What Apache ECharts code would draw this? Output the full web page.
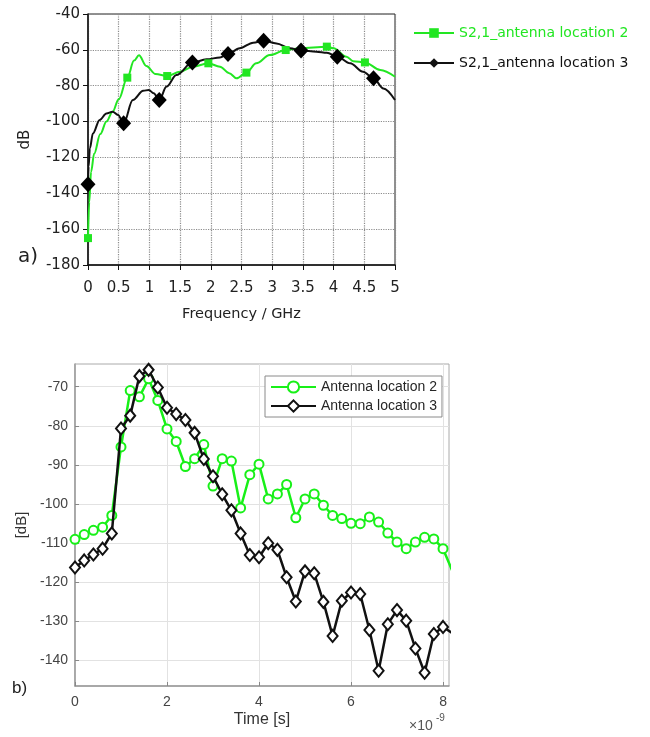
<!DOCTYPE html>
<html>
<head>
<meta charset="utf-8">
<script src="https://cdn.jsdelivr.net/npm/echarts@6/dist/echarts.min.js"></script>
<style>
  html, body { margin: 0; padding: 0; background: #fff; }
  #chart { width: 650px; height: 737px; }
</style>
</head>
<body>
<div id="chart"></div>
<script>
// --- a) frequency domain, S2,1 (curve samples read off the picture) ---
const freqLoc2 = [0, 0.02, 0.05, 0.1, 0.2, 0.3, 0.4, 0.5, 0.64, 0.75, 0.83, 0.95, 1.1, 1.29, 1.5, 1.71, 1.96, 2.15, 2.3, 2.42, 2.58, 2.74, 2.96, 3.22, 3.45, 3.89, 4.0, 4.21, 4.32, 4.51, 4.76, 5.0];
const dbLoc2 = [-165, -145, -128, -118, -107, -100, -94.5, -87.5, -75.5, -66, -63, -69, -73.5, -74.6, -72.2, -69.4, -67.5, -69.4, -73, -75.9, -72.7, -67.5, -62.9, -60.1, -59.1, -58.2, -59.1, -63.8, -66.3, -67, -71.2, -75];
const markFreqLoc2 = [0, 0.64, 1.29, 1.96, 2.58, 3.22, 3.89, 4.51];
const markDbLoc2 = [-165, -75.5, -74.6, -67.5, -72.7, -60.1, -58.2, -67];

const freqLoc3 = [0, 0.01, 0.03, 0.08, 0.19, 0.3, 0.4, 0.49, 0.58, 0.73, 0.9, 0.99, 1.07, 1.16, 1.28, 1.44, 1.7, 1.93, 2.15, 2.28, 2.47, 2.69, 2.86, 3.07, 3.29, 3.47, 3.72, 3.89, 4.06, 4.27, 4.48, 4.65, 4.81, 5.0];
const dbLoc3 = [-135, -125, -115, -106.6, -99.1, -95.5, -94.5, -96.3, -101, -88, -82.8, -82.4, -84.2, -88, -80.5, -74, -67.1, -65.3, -64.2, -62.3, -59.1, -56, -54.9, -56.4, -59.1, -60.4, -61, -61.6, -63.8, -67.5, -72.2, -75.9, -81.5, -88];
const markFreqLoc3 = [0, 0.58, 1.16, 1.7, 2.28, 2.86, 3.47, 4.06, 4.65];
const markDbLoc3 = [-135, -101, -88, -67.1, -62.3, -54.9, -60.4, -63.8, -75.9];

// --- b) time domain (x in units of 1e-9 s) ---
const timeNs = [0, 0.2, 0.4, 0.6, 0.8, 1.0, 1.2, 1.4, 1.6, 1.8, 2.0, 2.2, 2.4, 2.6, 2.8, 3.0, 3.2, 3.4, 3.6, 3.8, 4.0, 4.2, 4.4, 4.6, 4.8, 5.0, 5.2, 5.4, 5.6, 5.8, 6.0, 6.2, 6.4, 6.6, 6.8, 7.0, 7.2, 7.4, 7.6, 7.8, 8.0, 8.2];
const timeLoc2 = [-109, -107.8, -106.7, -105.9, -102.9, -85.4, -71, -72.6, -68, -73.5, -80.8, -84, -90.4, -88.4, -84.8, -95.4, -88.4, -89, -101, -92.5, -89.8, -98.7, -97.4, -95, -103.5, -98.7, -97.4, -100.3, -102.9, -103.7, -104.9, -105, -103.3, -104.6, -107.4, -109.7, -111.4, -109.7, -108.5, -108.9, -111.4, -117];
const timeLoc3 = [-116.2, -114.4, -112.9, -111.4, -107.5, -80.7, -77.4, -67.3, -65.7, -70.2, -75.4, -77, -78.5, -81.8, -88.5, -92.9, -97.5, -101.6, -107.5, -113, -113.6, -110, -111.7, -118.7, -124.9, -117.2, -117.7, -125, -133.7, -124.7, -122.6, -123, -132.2, -142.6, -130.7, -127.1, -129.8, -136.9, -143.1, -133.2, -131.4, -133];
const dbTicksB = [-140, -130, -120, -110, -100, -90, -80, -70];
const timeTicksB = [0, 2, 4, 6, 8];

const zip = (xs, ys) => xs.map((x, i) => [x, ys[i]]);

const GREEN_A = '#22e622';
const GREEN_B = '#18f018';
const fontA = 'DejaVu Sans';
const fontB = 'Liberation Sans';

const chart = echarts.init(document.getElementById('chart'));

const option = {
  animation: false,
  backgroundColor: '#fff',
  grid: [
    { left: 88, top: 14, width: 307, height: 251, show: true, borderColor: '#222', borderWidth: 1, outerBoundsMode: 'none' },
    { left: 75, top: 364, width: 374, height: 322, show: true, borderColor: '#aaa', borderWidth: 1, outerBoundsMode: 'none' },
  ],
  legend: [
    {
      orient: 'vertical',
      left: 413,
      top: 26,
      padding: 0,
      itemWidth: 40,
      itemHeight: 12,
      itemGap: 16,
      textStyle: { fontFamily: fontA, fontSize: 14, color: '#111' },
      data: [
        { name: 'S2,1_antenna location 2', textStyle: { color: GREEN_A } },
        { name: 'S2,1_antenna location 3', textStyle: { color: '#111' } },
      ],
    },
    {
      orient: 'vertical',
      left: 265,
      top: 376,
      padding: [4, 5, 4, 5],
      itemWidth: 45,
      itemHeight: 14,
      itemGap: 5,
      backgroundColor: '#fff',
      borderColor: '#8a8a8a',
      borderWidth: 1,
      borderRadius: 0,
      textStyle: { fontFamily: fontB, fontSize: 14, color: '#262626' },
      data: ['Antenna location 2', 'Antenna location 3'],
    },
  ],
  xAxis: [
    {
      type: 'value',
      gridIndex: 0,
      min: 0,
      max: 5,
      interval: 0.5,
      name: 'Frequency / GHz',
      nameLocation: 'middle',
      nameGap: 42,
      nameTextStyle: { fontFamily: fontA, fontSize: 14.5, color: '#222' },
      axisLine: { lineStyle: { color: '#111', width: 1.5 } },
      axisTick: { show: true, length: 5, lineStyle: { color: '#111' } },
      axisLabel: { fontFamily: fontA, fontSize: 15, color: '#222', margin: 16 },
      splitLine: { show: true, lineStyle: { color: '#8c8c8c', type: 'dotted', width: 1.2 } },
    },
    {
      type: 'value',
      gridIndex: 1,
      min: 0,
      max: 8.13,
      name: 'Time [s]',
      nameLocation: 'middle',
      nameGap: 26,
      nameTextStyle: { fontFamily: fontB, fontSize: 16, color: '#333' },
      axisLine: { lineStyle: { color: '#999', width: 1.5 } },
      axisTick: { show: true, inside: true, length: 4, customValues: timeTicksB, lineStyle: { color: '#888' } },
      axisLabel: { fontFamily: fontB, fontSize: 14, color: '#444', margin: 9, customValues: timeTicksB },
      splitLine: { show: true, lineStyle: { color: '#e2e2e2', width: 1 } },
    },
  ],
  yAxis: [
    {
      type: 'value',
      gridIndex: 0,
      min: -180,
      max: -40,
      interval: 20,
      name: 'dB',
      nameLocation: 'middle',
      nameGap: 55,
      nameTextStyle: { fontFamily: fontA, fontSize: 15, color: '#222' },
      axisLine: { show: true, lineStyle: { color: '#111', width: 1.5 } },
      axisTick: { show: true, length: 5, lineStyle: { color: '#111' } },
      axisLabel: { fontFamily: fontA, fontSize: 15, color: '#222', margin: 8 },
      splitLine: { show: true, lineStyle: { color: '#8c8c8c', type: 'dotted', width: 1.2 } },
    },
    {
      type: 'value',
      gridIndex: 1,
      min: -146.5,
      max: -64.2,
      name: '[dB]',
      nameLocation: 'middle',
      nameGap: 43,
      nameTextStyle: { fontFamily: fontB, fontSize: 15, color: '#333' },
      axisLine: { show: true, lineStyle: { color: '#999', width: 1.5 } },
      axisTick: { show: true, inside: true, length: 4, customValues: dbTicksB, lineStyle: { color: '#888' } },
      axisLabel: { fontFamily: fontB, fontSize: 14, color: '#444', margin: 7, customValues: dbTicksB },
      splitLine: { show: true, lineStyle: { color: '#e2e2e2', width: 1 } },
    },
  ],
  series: [
    {
      name: 'S2,1_antenna location 2',
      type: 'line',
      xAxisIndex: 0,
      yAxisIndex: 0,
      data: zip(freqLoc2, dbLoc2),
      smooth: 0.35,
      smoothMonotone: 'x',
      symbol: 'rect',
      showSymbol: false,
      lineStyle: { color: GREEN_A, width: 2 },
      itemStyle: { color: GREEN_A },
      z: 2,
    },
    {
      name: 'loc2 markers a',
      type: 'scatter',
      xAxisIndex: 0,
      yAxisIndex: 0,
      data: zip(markFreqLoc2, markDbLoc2),
      symbol: 'rect',
      symbolSize: 8,
      itemStyle: { color: GREEN_A, opacity: 1 },
      z: 4,
    },
    {
      name: 'S2,1_antenna location 3',
      type: 'line',
      xAxisIndex: 0,
      yAxisIndex: 0,
      data: zip(freqLoc3, dbLoc3),
      smooth: 0.35,
      smoothMonotone: 'x',
      symbol: 'diamond',
      showSymbol: false,
      lineStyle: { color: '#111', width: 2 },
      itemStyle: { color: '#111' },
      z: 3,
    },
    {
      name: 'loc3 markers a',
      type: 'scatter',
      xAxisIndex: 0,
      yAxisIndex: 0,
      data: zip(markFreqLoc3, markDbLoc3),
      symbol: 'diamond',
      symbolSize: [15, 16],
      itemStyle: { color: '#000', opacity: 1 },
      z: 5,
    },
    {
      name: 'Antenna location 2',
      type: 'line',
      xAxisIndex: 1,
      yAxisIndex: 1,
      data: zip(timeNs, timeLoc2),
      symbol: 'emptyCircle',
      symbolSize: 9,
      lineStyle: { color: GREEN_B, width: 2.5 },
      itemStyle: { color: GREEN_B, borderWidth: 2.5 },
      z: 2,
    },
    {
      name: 'Antenna location 3',
      type: 'line',
      xAxisIndex: 1,
      yAxisIndex: 1,
      data: zip(timeNs, timeLoc3),
      symbol: 'emptyDiamond',
      symbolSize: [10, 12],
      lineStyle: { color: '#111', width: 2.5 },
      itemStyle: { color: '#111', borderWidth: 2 },
      z: 3,
    },
  ],
  graphic: [
    {
      type: 'text',
      left: 18,
      top: 247,
      style: { text: 'a)', font: '20px "DejaVu Sans"', fill: '#222' },
    },
    {
      type: 'text',
      left: 12,
      top: 680,
      style: { text: 'b)', font: '17px "Liberation Sans"', fill: '#222' },
    },
    {
      type: 'text',
      left: 409,
      top: 719,
      style: { text: '×10', font: '14px "Liberation Sans"', fill: '#555' },
    },
    {
      type: 'text',
      left: 436,
      top: 713,
      style: { text: '-9', font: '10px "Liberation Sans"', fill: '#555' },
    },
  ],
};

chart.setOption(option);
</script>
</body>
</html>
